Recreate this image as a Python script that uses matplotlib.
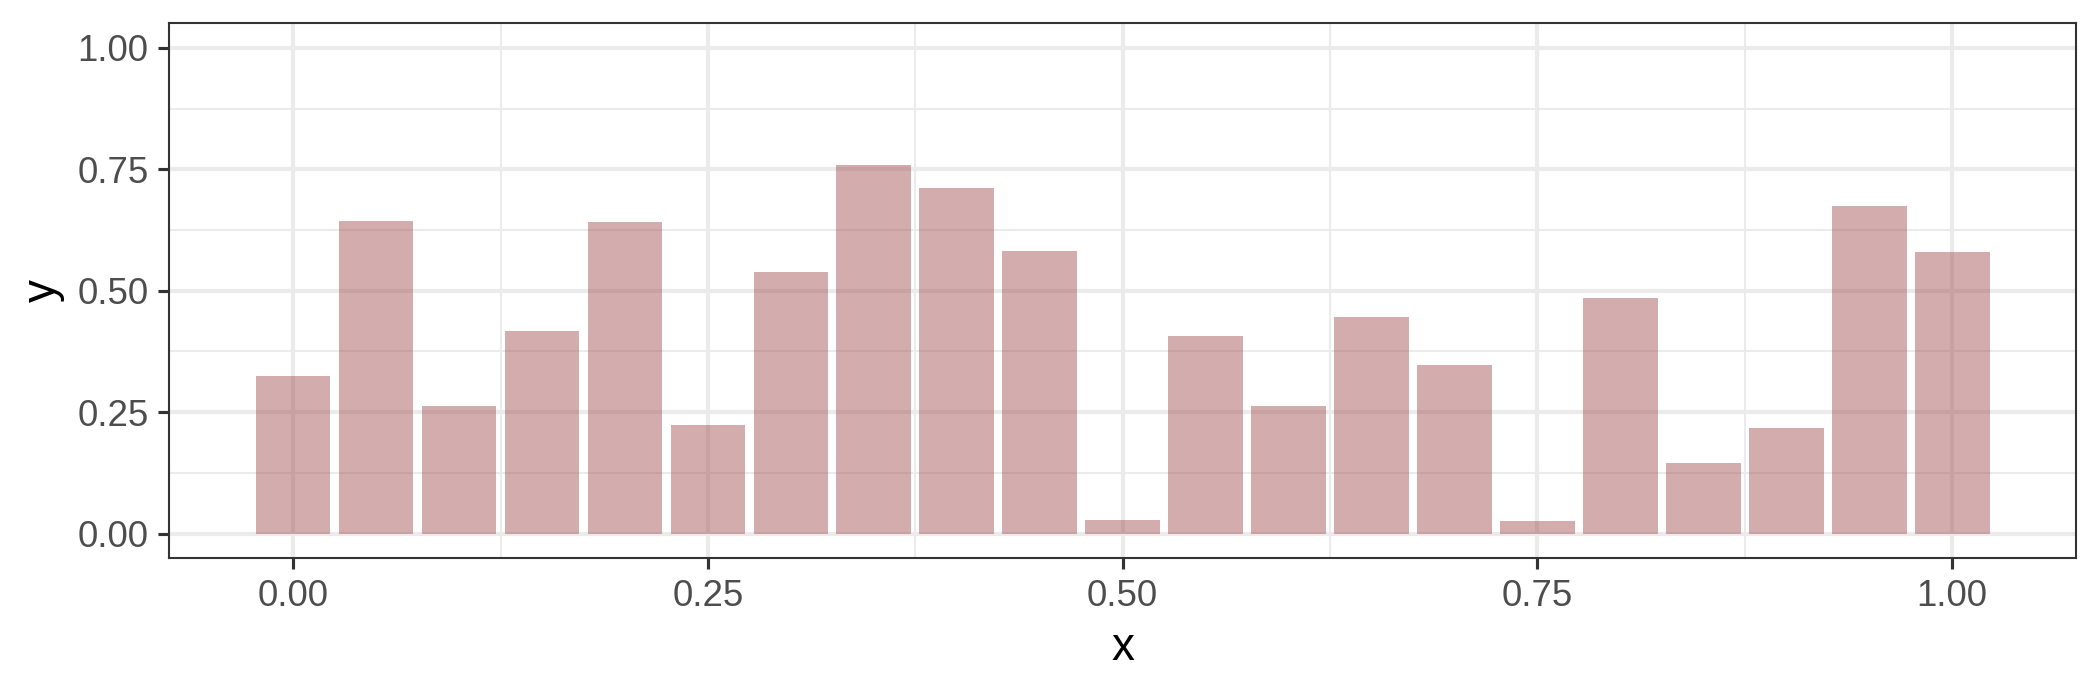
import matplotlib
matplotlib.use("Agg")
import matplotlib.pyplot as plt
import numpy as np

x_vals = [0.00, 0.05, 0.10, 0.15, 0.20, 0.25, 0.30, 0.35, 0.40, 0.45, 0.50,
          0.55, 0.60, 0.65, 0.70, 0.75, 0.80, 0.85, 0.90, 0.95, 1.00]
y_vals = [0.325, 0.643, 0.262, 0.417, 0.641, 0.223, 0.538, 0.758, 0.711, 0.581, 0.028,
          0.406, 0.262, 0.446, 0.347, 0.026, 0.486, 0.146, 0.217, 0.674, 0.579]
tick_vals = [0.00, 0.25, 0.50, 0.75, 1.00]
tick_labels = ["0.00", "0.25", "0.50", "0.75", "1.00"]

plt.rcParams['font.family'] = ['Liberation Sans', 'DejaVu Sans']

fig = plt.figure(figsize=(7, 2.3), dpi=300)
ax = fig.add_axes([0.0805, 0.1913, 0.9887 - 0.0805, 0.966 - 0.1913])

ax.bar(x_vals, y_vals, width=0.045, color=(0.64, 0.33, 0.33), alpha=0.48,
       linewidth=0, zorder=3)

ax.set_xlim(-0.0748, 1.0748)
ax.set_ylim(-0.05, 1.05)
ax.set_xticks(tick_vals)
ax.set_xticklabels(tick_labels)
ax.set_yticks(tick_vals)
ax.set_yticklabels(tick_labels)
ax.set_xticks([0.125, 0.375, 0.625, 0.875], minor=True)
ax.set_yticks([0.125, 0.375, 0.625, 0.875], minor=True)

ax.grid(which='major', color='#EBEBEB', linewidth=1.0, zorder=1)
ax.grid(which='minor', color='#EBEBEB', linewidth=0.5, zorder=1)
ax.set_axisbelow(True)

ax.tick_params(axis='both', which='major', length=2.75, width=0.75,
               color='#333333', labelsize=8.8, labelcolor='#4D4D4D', pad=2.2)
ax.tick_params(axis='both', which='minor', length=0)

for s in ax.spines.values():
    s.set_color('#333333')
    s.set_linewidth(0.5)

ax.set_xlabel('x', fontsize=11, color='black', labelpad=3)
ax.set_ylabel('y', fontsize=11, color='black', labelpad=3)

fig.savefig('out.png', dpi=300, facecolor='white')
